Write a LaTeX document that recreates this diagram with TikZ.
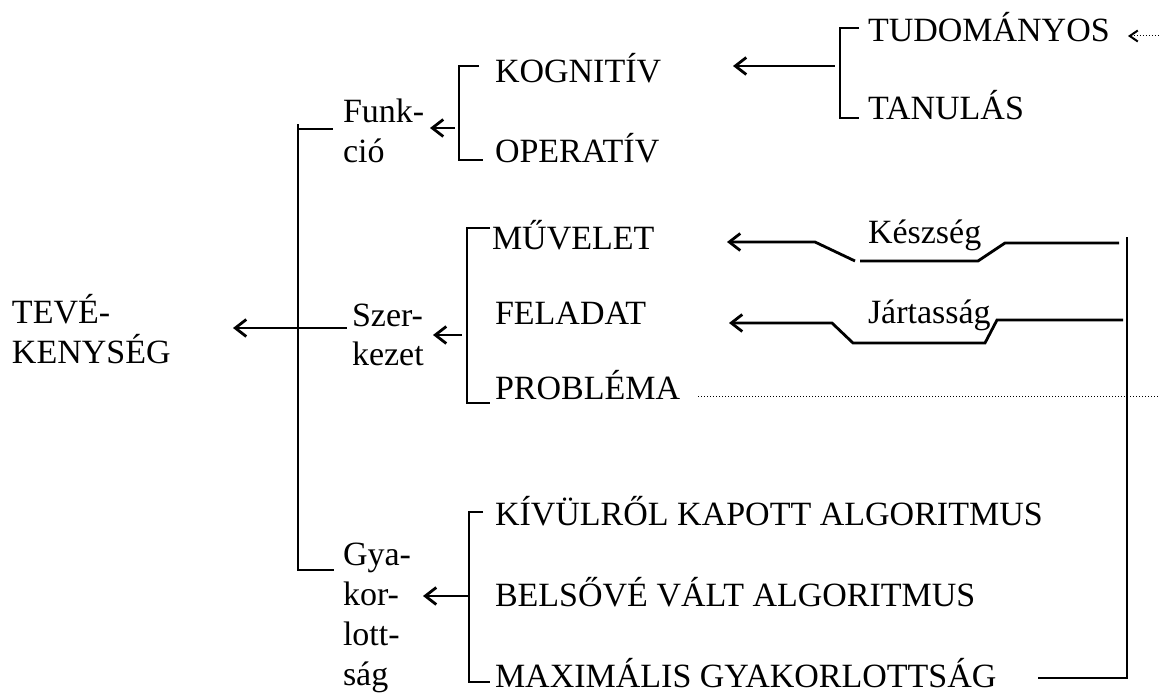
\documentclass[tikz,border=0pt]{standalone}
\usepackage{fontspec}
\setmainfont{Liberation Serif}
\usetikzlibrary{arrows.meta}
\begin{document}
\begin{tikzpicture}[x=1pt,y=-1pt,
  lbl/.style={anchor=base west,inner sep=0pt,outer sep=0pt,font=\fontsize{34}{40}\selectfont},
  ln/.style={line width=2.8pt},
  arr/.style={ln,{Straight Barb[length=11pt,width=17pt]}-},
  dots/.style={line width=1pt,dotted},
  dotarr/.style={dots,{Straight Barb[length=8pt,width=11pt,line width=2pt]}-}
]
\useasboundingbox (0,0) rectangle (1160,693);

% ---- labels ----
\node[lbl] (teve1) at (12,323) {TEVÉ-};
\node[lbl] (teve2) at (12,363) {KENYSÉG};
\node[lbl] (funk1) at (343,122) {Funk-};
\node[lbl] (funk2) at (343,162) {ció};
\node[lbl] (szer1) at (352,326) {Szer-};
\node[lbl] (szer2) at (352,365) {kezet};
\node[lbl] (gya1) at (343,565) {Gya-};
\node[lbl] (gya2) at (343,605) {kor-};
\node[lbl] (gya3) at (343,645) {lott-};
\node[lbl] (gya4) at (343,685) {ság};
\node[lbl] (kogn) at (495,82) {KOGNITÍV};
\node[lbl] (oper) at (495,162) {OPERATÍV};
\node[lbl] (tudo) at (868,42) {TUDOMÁNYOS};
\node[lbl] (tanu) at (868,120) {TANULÁS};
\node[lbl] (muv) at (492,249) {MŰVELET};
\node[lbl] (fel) at (495,324) {FELADAT};
\node[lbl] (prob) at (495,399) {PROBLÉMA};
\node[lbl] (kesz) at (868,243) {Készség};
\node[lbl] (jart) at (868,323) {Jártasság};
\node[lbl] (kiv) at (495,525) {KÍVÜLRŐL KAPOTT ALGORITMUS};
\node[lbl] (bel) at (495,606) {BELSŐVÉ VÁLT ALGORITMUS};
\node[lbl] (max) at (495,687) {MAXIMÁLIS GYAKORLOTTSÁG};

% ---- main bracket: Funkció / Szerkezet / Gyakorlottság ----
\coordinate (mTop) at (298,129);
\coordinate (mBot) at (298,570);
\draw[ln] (298,124) -- (mBot) -- (334,570);
\draw[ln] (mTop) -- (333,129);
\coordinate (tevTip) at (233,328);
\draw[arr] (tevTip) -- (347,328);

% ---- Funkció bracket ----
\coordinate (fTop) at (459,66);
\coordinate (fBot) at (459,160);
\draw[ln] (479,66) -- (fTop) -- (fBot) -- (483,160);
\draw[arr] (430,128) -- (455,128);

% ---- Szerkezet bracket ----
\coordinate (sTop) at (467,228);
\coordinate (sBot) at (467,403);
\draw[ln] (490,228) -- (sTop) -- (sBot) -- (490,403);
\draw[arr] (433,335) -- (462,335);

% ---- Gyakorlottság bracket ----
\coordinate (gTop) at (469,512);
\coordinate (gBot) at (469,682);
\draw[ln] (483,512) -- (gTop) -- (gBot) -- (490,682);
\draw[arr] (423,596) -- (469,596);

% ---- TUDOMÁNYOS / TANULÁS bracket ----
\coordinate (tTop) at (840,28);
\coordinate (tBot) at (840,118);
\draw[ln] (859,28) -- (tTop) -- (tBot) -- (859,118);
\draw[arr] (733,66) -- (835,66);
\draw[dotarr] (1128,36) -- (1160,36);

% ---- Készség and Jártasság links ----
\draw[arr] (727,242) -- (815,242) -- (855,261);
\draw[ln] (860,261) -- (978,261) -- (1005,243) -- (1119,243);
\draw[arr] (729,323) -- (832,323) -- (853,343) -- (985,343) -- (997,320) -- (1123,320);

% ---- right-hand bracket ----
\coordinate (rTop) at (1127,237);
\coordinate (rBot) at (1127,678);
\draw[ln] (rTop) -- (rBot) -- (1038,678);

% ---- dotted line from PROBLÉMA ----
\draw[dots] (698,396) -- (1160,396);
\end{tikzpicture}
\end{document}
